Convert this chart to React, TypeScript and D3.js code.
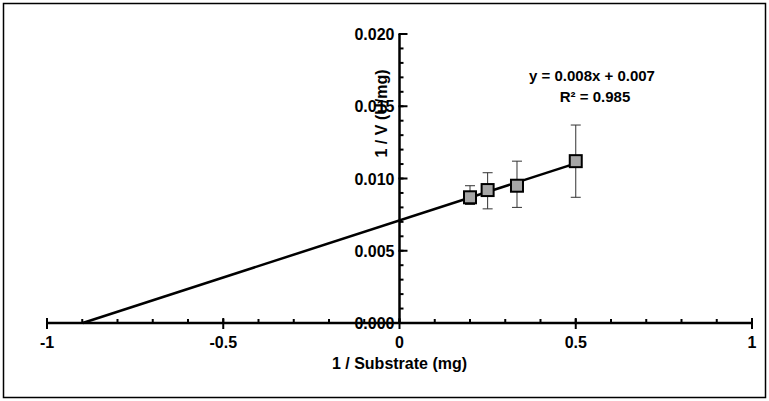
import * as d3 from "d3"

const xs = [0.2, 0.25, 0.3333, 0.5]
const ys = [0.0087, 0.0092, 0.0095, 0.0112]
const errLo = [0.0082, 0.0079, 0.008, 0.0087]
const errHi = [0.0095, 0.0104, 0.0112, 0.0137]
const slope = 0.0079
const intercept = 0.0071
const xTicks = [-1, -0.5, 0, 0.5, 1]
const yTicks = [0, 0.005, 0.01, 0.015, 0.02]

export default function App() {
  const W = 769, H = 401
  const x = d3.scaleLinear().domain([-1, 1]).range([47, 752])
  const y = d3.scaleLinear().domain([0, 0.02]).range([323, 34])
  const font = "Arial, 'Liberation Sans', sans-serif"
  const x0 = -intercept / slope
  const minorX = d3.range(-10, 11).map((i) => i / 10)
  const minorY = d3.range(0, 21).map((i) => i / 1000)
  return (
    <svg width={W} height={H} style={{ position: "absolute", left: 0, top: 0 }} fontFamily={font}>
      <rect x={0} y={0} width={W} height={H} fill="white" />
      <rect x={3.5} y={3.5} width={W - 7} height={H - 7} fill="none" stroke="#000" strokeWidth={1.5} />
      {/* axes */}
      <line x1={x(-1)} x2={x(1)} y1={y(0)} y2={y(0)} stroke="#000" strokeWidth={2.5} />
      <line x1={x(0)} x2={x(0)} y1={y(0)} y2={y(0.02)} stroke="#000" strokeWidth={2.5} />
      {minorX.map((v) => (
        <line key={"mx" + v} x1={x(v)} x2={x(v)} y1={y(0) - 4} y2={y(0)} stroke="#000" strokeWidth={2} />
      ))}
      {xTicks.map((v) => (
        <g key={"x" + v}>
          <line x1={x(v)} x2={x(v)} y1={y(0) - 5} y2={y(0) + 6} stroke="#000" strokeWidth={2} />
          <text x={x(v)} y={y(0) + 25} textAnchor="middle" fontSize={16} fontWeight="bold">{v}</text>
        </g>
      ))}
      {minorY.map((v) => (
        <line key={"my" + v} x1={x(0)} x2={x(0) + 4} y1={y(v)} y2={y(v)} stroke="#000" strokeWidth={2} />
      ))}
      {yTicks.map((v) => (
        <g key={"y" + v}>
          <line x1={x(0) - 1} x2={x(0) + 8} y1={y(v)} y2={y(v)} stroke="#000" strokeWidth={2} />
          <text x={x(0) - 5} y={y(v) + 6} textAnchor="end" fontSize={16} fontWeight="bold">{v.toFixed(3)}</text>
        </g>
      ))}
      <text transform={`translate(${x(0) - 13},${y(0.0145)}) rotate(-90)`} textAnchor="middle" fontSize={16} fontWeight="bold">1 / V (U/mg)</text>
      <text x={x(0)} y={369} textAnchor="middle" fontSize={16} fontWeight="bold">1 / Substrate (mg)</text>
      {/* trendline */}
      <line x1={x(x0)} y1={y(0)} x2={x(0.5)} y2={y(slope * 0.5 + intercept)} stroke="#000" strokeWidth={2.5} />
      {/* error bars */}
      {xs.map((v, i) => (
        <g key={"e" + i} stroke="#333" strokeWidth={1}>
          <line x1={x(v)} x2={x(v)} y1={y(errLo[i])} y2={y(errHi[i])} />
          <line x1={x(v) - 5} x2={x(v) + 5} y1={y(errLo[i])} y2={y(errLo[i])} />
          <line x1={x(v) - 5} x2={x(v) + 5} y1={y(errHi[i])} y2={y(errHi[i])} />
        </g>
      ))}
      {xs.map((v, i) => (
        <rect key={"p" + i} x={x(v) - 6} y={y(ys[i]) - 6} width={12} height={12} fill="#a6a6a6" stroke="#000" strokeWidth={2} />
      ))}
      <text x={592} y={81} textAnchor="middle" fontSize={15} fontWeight="bold">y = 0.008x + 0.007</text>
      <text x={595} y={102} textAnchor="middle" fontSize={15} fontWeight="bold">R² = 0.985</text>
    </svg>
  )
}
